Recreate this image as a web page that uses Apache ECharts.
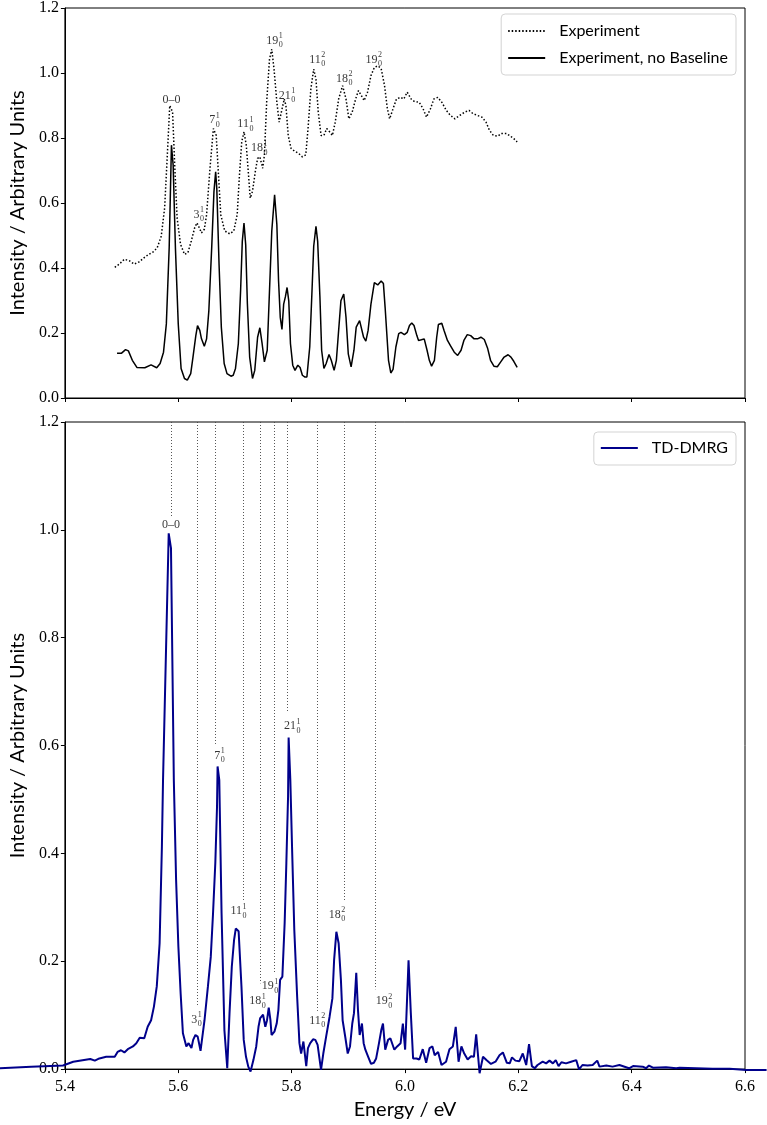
<!DOCTYPE html>
<html>
<head>
<meta charset="utf-8">
<title>TD-DMRG vs experiment</title>
<script src="https://cdn.jsdelivr.net/npm/echarts@6/dist/echarts.min.js"></script>
<style>
  html, body { margin: 0; padding: 0; background: #fff; }
  #chart { width: 767px; height: 1125px; }
</style>
</head>
<body>
<div id="chart"></div>
<script>
// ---- axis ticks ----
var xTicks = [5.4, 5.6, 5.8, 6.0, 6.2, 6.4, 6.6];
var yTicks = [0.0, 0.2, 0.4, 0.6, 0.8, 1.0, 1.2];

// ---- experiment (dotted) ----
var expE = [5.488,5.496,5.505,5.514,5.522,5.531,5.540,5.548,5.557,5.563,
  5.570,5.576,5.581,5.585,5.590,5.594,5.598,5.604,5.611,5.617,
  5.623,5.629,5.633,5.637,5.641,5.646,5.650,5.656,5.662,5.667,
  5.671,5.675,5.682,5.691,5.698,5.704,5.708,5.712,5.716,5.720,
  5.724,5.727,5.731,5.736,5.740,5.744,5.749,5.752,5.756,5.761,
  5.765,5.769,5.774,5.778,5.782,5.787,5.790,5.794,5.799,5.805,
  5.812,5.819,5.825,5.829,5.834,5.839,5.843,5.847,5.852,5.857,
  5.862,5.867,5.872,5.877,5.883,5.890,5.896,5.901,5.907,5.913,
  5.918,5.923,5.928,5.934,5.940,5.946,5.952,5.958,5.964,5.969,
  5.973,5.979,5.985,5.992,5.998,6.004,6.011,6.017,6.025,6.032,
  6.038,6.045,6.051,6.058,6.065,6.073,6.080,6.088,6.097,6.106,
  6.113,6.120,6.127,6.136,6.143,6.149,6.156,6.164,6.170,6.179,
  6.186,6.192,6.198];
var expI = [0.402,0.412,0.427,0.422,0.412,0.419,0.432,0.442,0.451,0.463,
  0.498,0.585,0.758,0.900,0.880,0.707,0.554,0.473,0.442,0.447,
  0.483,0.524,0.539,0.524,0.508,0.519,0.564,0.707,0.829,0.808,
  0.686,0.564,0.514,0.505,0.514,0.564,0.686,0.788,0.819,0.778,
  0.686,0.615,0.636,0.697,0.737,0.742,0.707,0.747,0.910,1.042,
  1.073,1.012,0.910,0.849,0.880,0.920,0.900,0.808,0.768,0.760,
  0.753,0.742,0.748,0.829,0.951,1.012,0.981,0.880,0.808,0.808,
  0.829,0.819,0.808,0.849,0.920,0.961,0.920,0.859,0.880,0.920,
  0.946,0.931,0.915,0.941,0.992,1.017,1.022,1.014,0.961,0.890,
  0.859,0.890,0.920,0.925,0.920,0.941,0.920,0.912,0.910,0.890,
  0.864,0.890,0.920,0.925,0.910,0.885,0.870,0.859,0.870,0.880,
  0.885,0.875,0.870,0.864,0.849,0.824,0.808,0.806,0.814,0.814,
  0.806,0.798,0.788];

// ---- experiment, no baseline (solid) ----
var nbE = [5.492,5.500,5.507,5.512,5.519,5.527,5.541,5.552,5.562,5.568,
  5.574,5.579,5.584,5.588,5.591,5.595,5.600,5.605,5.611,5.616,
  5.622,5.626,5.631,5.634,5.638,5.641,5.646,5.650,5.654,5.659,
  5.663,5.666,5.668,5.672,5.676,5.681,5.686,5.693,5.697,5.701,
  5.706,5.710,5.713,5.716,5.719,5.722,5.726,5.731,5.735,5.740,
  5.744,5.748,5.752,5.757,5.761,5.765,5.770,5.774,5.777,5.780,
  5.783,5.786,5.789,5.792,5.795,5.798,5.802,5.806,5.811,5.815,
  5.819,5.823,5.827,5.832,5.836,5.839,5.843,5.846,5.850,5.853,
  5.857,5.861,5.866,5.870,5.875,5.879,5.883,5.887,5.892,5.896,
  5.900,5.905,5.910,5.914,5.920,5.927,5.931,5.935,5.940,5.946,5.952,
  5.958,5.962,5.965,5.971,5.975,5.979,5.984,5.989,5.993,5.999,
  6.004,6.008,6.012,6.016,6.021,6.024,6.029,6.034,6.039,6.043,
  6.047,6.052,6.056,6.059,6.065,6.069,6.075,6.081,6.087,6.093,
  6.099,6.104,6.110,6.116,6.122,6.128,6.134,6.140,6.146,6.151,
  6.157,6.163,6.169,6.175,6.182,6.187,6.192,6.198];
var nbI = [0.138,0.138,0.149,0.145,0.116,0.094,0.093,0.102,0.093,0.106,
  0.141,0.228,0.462,0.778,0.717,0.462,0.228,0.091,0.060,0.055,
  0.075,0.126,0.192,0.223,0.208,0.182,0.159,0.182,0.269,0.462,
  0.635,0.696,0.645,0.411,0.218,0.106,0.075,0.067,0.070,0.091,
  0.167,0.330,0.482,0.538,0.472,0.289,0.126,0.060,0.085,0.187,
  0.216,0.167,0.111,0.147,0.330,0.513,0.625,0.533,0.360,0.248,
  0.211,0.289,0.311,0.340,0.299,0.167,0.101,0.085,0.101,0.094,
  0.070,0.065,0.065,0.157,0.330,0.467,0.528,0.482,0.309,0.147,
  0.091,0.106,0.134,0.116,0.085,0.116,0.208,0.299,0.320,0.248,
  0.136,0.096,0.147,0.218,0.238,0.187,0.175,0.208,0.289,0.355,0.348,
  0.360,0.352,0.279,0.116,0.077,0.088,0.157,0.198,0.202,0.195,
  0.202,0.223,0.231,0.223,0.192,0.177,0.179,0.182,0.147,0.116,
  0.098,0.116,0.187,0.226,0.230,0.208,0.177,0.159,0.141,0.131,
  0.147,0.177,0.195,0.192,0.182,0.182,0.187,0.180,0.152,0.116,
  0.098,0.096,0.111,0.126,0.133,0.126,0.113,0.094];

// ---- TD-DMRG ----
var dmrgE = [5.288,5.344,5.400,5.418,5.448,5.456,5.464,5.476,5.491,5.496,
  5.502,5.508,5.514,5.523,5.529,5.535,5.543,5.549,5.555,5.560,
  5.565,5.570,5.574,5.576,5.586,5.590,5.595,5.599,5.603,5.607,
  5.611,5.617,5.621,5.626,5.629,5.633,5.637,5.642,5.649,5.655,
  5.660,5.664,5.668,5.671,5.672,5.675,5.679,5.684,5.689,5.693,
  5.697,5.701,5.704,5.709,5.714,5.718,5.722,5.726,5.730,5.735,
  5.740,5.744,5.747,5.752,5.756,5.759,5.762,5.765,5.767,5.772,
  5.776,5.779,5.782,5.786,5.790,5.793,5.796,5.797,5.800,5.803,
  5.807,5.812,5.816,5.819,5.823,5.828,5.831,5.835,5.840,5.844,
  5.848,5.854,5.858,5.863,5.869,5.874,5.877,5.881,5.885,5.889,
  5.892,5.897,5.901,5.905,5.909,5.912,5.916,5.919,5.922,5.926,
  5.929,5.932,5.937,5.942,5.947,5.951,5.956,5.960,5.963,5.967,
  5.972,5.976,5.979,5.983,5.988,5.994,5.998,6.002,6.008,6.012,
  6.016,6.022,6.027,6.033,6.039,6.045,6.050,6.054,6.060,6.066,
  6.074,6.080,6.086,6.091,6.096,6.101,6.106,6.112,6.118,6.123,
  6.127,6.133,6.139,6.145,6.153,6.161,6.168,6.174,6.181,6.186,
  6.190,6.196,6.203,6.209,6.215,6.220,6.225,6.230,6.235,6.244,
  6.250,6.256,6.262,6.267,6.272,6.277,6.285,6.294,6.303,6.308,
  6.314,6.323,6.332,6.335,6.340,6.344,6.356,6.367,6.379,6.396,
  6.403,6.420,6.426,6.431,6.438,6.461,6.479,6.485,6.514,6.543,
  6.573,6.602,6.638];
var dmrgI = [0.016,0.019,0.021,0.028,0.033,0.030,0.034,0.037,0.037,0.046,
  0.049,0.045,0.051,0.056,0.062,0.072,0.071,0.092,0.104,0.129,
  0.166,0.245,0.422,0.544,0.996,0.969,0.544,0.361,0.239,0.153,
  0.080,0.056,0.062,0.053,0.068,0.077,0.074,0.048,0.104,0.166,
  0.220,0.300,0.392,0.495,0.569,0.544,0.300,0.086,0.016,0.117,
  0.202,0.251,0.272,0.267,0.166,0.068,0.037,0.019,0.010,0.031,
  0.056,0.092,0.108,0.114,0.092,0.104,0.127,0.104,0.077,0.083,
  0.098,0.123,0.178,0.184,0.282,0.392,0.514,0.622,0.544,0.422,
  0.269,0.147,0.062,0.043,0.065,0.020,0.053,0.062,0.069,0.068,
  0.059,0.013,0.043,0.074,0.110,0.144,0.214,0.266,0.245,0.178,
  0.104,0.071,0.043,0.056,0.098,0.117,0.191,0.123,0.077,0.098,
  0.062,0.050,0.037,0.024,0.026,0.034,0.062,0.086,0.098,0.050,
  0.068,0.071,0.068,0.050,0.056,0.062,0.098,0.050,0.214,0.117,
  0.034,0.034,0.032,0.051,0.026,0.053,0.056,0.040,0.046,0.022,
  0.028,0.051,0.056,0.092,0.028,0.056,0.043,0.032,0.038,0.037,
  0.078,0.007,0.037,0.031,0.024,0.028,0.040,0.045,0.026,0.025,
  0.036,0.030,0.029,0.043,0.022,0.060,0.020,0.016,0.022,0.028,
  0.025,0.030,0.025,0.031,0.020,0.027,0.025,0.028,0.031,0.014,
  0.022,0.021,0.022,0.020,0.030,0.019,0.021,0.019,0.022,0.016,
  0.020,0.019,0.016,0.021,0.017,0.018,0.016,0.017,0.016,0.015,
  0.015,0.013,0.013];

// ---- peak assignments ----
var lblBase = ['0\u20130', '3', '7', '11', '18', '19', '21', '11', '18', '19'];
var lblSup  = ['', '1', '1', '1', '1', '1', '1', '2', '2', '2'];
var lblSub  = ['', '0', '0', '0', '0', '0', '0', '0', '0', '0'];
var topLblE = [5.588, 5.636, 5.664, 5.718, 5.743, 5.770, 5.792, 5.845, 5.893, 5.945];
var topLblI = [0.916, 0.565, 0.855, 0.843, 0.769, 1.099, 0.931, 1.041, 0.983, 1.041];
var botLblE = [5.587, 5.632, 5.673, 5.706, 5.740, 5.762, 5.801, 5.845, 5.880, 5.963];
var botLblI = [1.010, 0.092, 0.581, 0.293, 0.126, 0.154, 0.636, 0.090, 0.286, 0.126];
// dotted guides at the experimental peaks, from the top down to this intensity
var guideE = [5.588, 5.634, 5.666, 5.715, 5.745, 5.770, 5.792, 5.845, 5.893, 5.947];
var guideEnd = [1.022, 0.117, 0.603, 0.311, 0.159, 0.178, 0.663, 0.108, 0.311, 0.148];

function zip(a, b) { return a.map(function (v, i) { return [v, b[i]]; }); }

var serif = 'Liberation Serif';
var sans = 'Lato';

// plot box geometry (px) - the TD-DMRG curve runs past the frame, so it sits
// on a hidden full-width axis scaled to match the visible one
var plotL = 63, plotR = 22, W = 767;
var pxPerUnit = (W - plotL - plotR) / (xTicks[xTicks.length - 1] - xTicks[0]);

// base text + stacked super/subscript, all anchored on one data point
function labelItems(xs, ys) {
  var items = [];
  xs.forEach(function (x, i) {
    var wb = lblBase[i].length * 6;
    if (!lblSup[i]) {
      items.push({ value: [x, ys[i]], label: { formatter: lblBase[i], align: 'center', offset: [0, 0], fontSize: 12 } });
      return;
    }
    var left = -(wb + 4.5) / 2;
    items.push({ value: [x, ys[i]], label: { formatter: lblBase[i], align: 'right', offset: [left + wb, 0], fontSize: 12 } });
    items.push({ value: [x, ys[i]], label: { formatter: lblSup[i], align: 'left', offset: [left + wb + 0.5, -4.5], fontSize: 8 } });
    items.push({ value: [x, ys[i]], label: { formatter: lblSub[i], align: 'left', offset: [left + wb + 0.5, 4.5], fontSize: 8 } });
  });
  return items;
}

function labelSeries(xi, yi, items, extra) {
  var s = {
    type: 'scatter', xAxisIndex: xi, yAxisIndex: yi, silent: true, z: 5,
    symbolSize: 1, itemStyle: { color: 'rgba(0,0,0,0)' },
    label: { show: true, position: 'inside', verticalAlign: 'middle', color: '#000', fontFamily: serif },
    data: items
  };
  if (extra) s.markLine = extra;
  return s;
}

function xAxisCfg(grid, withLabels) {
  var a = {
    type: 'value', gridIndex: grid, min: xTicks[0], max: xTicks[xTicks.length - 1],
    interval: 0.2,
    axisLine: { onZero: false, lineStyle: { color: '#000', width: 1 } },
    axisTick: { show: true, length: 4, lineStyle: { color: '#000' } },
    splitLine: { show: false },
    axisLabel: { show: withLabels, margin: 10, color: '#000', fontFamily: serif, fontSize: 16,
      formatter: function (v) { return v.toFixed(1); } }
  };
  if (withLabels) {
    a.name = 'Energy / eV';
    a.nameLocation = 'middle';
    a.nameGap = 27;
    a.nameTextStyle = { fontFamily: sans, fontSize: 20, color: '#000' };
  }
  return a;
}

function yAxisCfg(grid) {
  return {
    type: 'value', gridIndex: grid, min: yTicks[0], max: yTicks[yTicks.length - 1],
    interval: 0.2,
    name: 'Intensity / Arbitrary Units', nameLocation: 'middle', nameGap: 32,
    nameTextStyle: { fontFamily: sans, fontSize: 20, color: '#000' },
    axisLine: { show: true, lineStyle: { color: '#000', width: 1 } },
    axisTick: { show: true, length: 4, lineStyle: { color: '#000' } },
    splitLine: { show: false },
    axisLabel: { margin: 6, color: '#000', fontFamily: serif, fontSize: 16,
      formatter: function (v) { return v.toFixed(1); } }
  };
}

var legendBox = {
  orient: 'vertical', right: 31, itemWidth: 37, itemHeight: 14, itemGap: 11,
  backgroundColor: '#fff', borderColor: '#d3d3d3', borderWidth: 1, borderRadius: 4,
  itemStyle: { opacity: 0 },
  textStyle: { fontFamily: sans, fontSize: 16, color: '#000', padding: [0, 0, 0, 9] }
};

var chart = echarts.init(document.getElementById('chart'), null, { renderer: 'canvas' });

var guideLines = {
  silent: true, symbol: ['none', 'none'],
  lineStyle: { type: [1, 2], color: '#444', width: 0.9 },
  label: { show: false },
  data: guideE.map(function (x, i) { return [{ coord: [x, yTicks[yTicks.length - 1]] }, { coord: [x, guideEnd[i]] }]; })
};

chart.setOption({
  animation: false,
  grid: [
    { left: plotL, right: plotR, top: 5, height: 393, show: true, borderColor: '#000', borderWidth: 1 },
    { left: plotL, right: plotR, top: 422, height: 655, show: true, borderColor: '#000', borderWidth: 1 },
    { left: 0, right: 0, top: 422, height: 655, show: false }
  ],
  xAxis: [
    xAxisCfg(0, false),
    xAxisCfg(1, true),
    { type: 'value', gridIndex: 2, show: false,
      min: xTicks[0] - plotL / pxPerUnit, max: xTicks[xTicks.length - 1] + plotR / pxPerUnit }
  ],
  yAxis: [
    yAxisCfg(0),
    yAxisCfg(1),
    { type: 'value', gridIndex: 2, show: false, min: yTicks[0], max: yTicks[yTicks.length - 1] }
  ],
  legend: [
    Object.assign({}, legendBox, { top: 14, padding: [9, 8, 9, 6], data: ['Experiment', 'Experiment, no Baseline'] }),
    Object.assign({}, legendBox, { top: 432, padding: [8, 8, 9, 6], data: ['TD-DMRG'] })
  ],
  series: [
    {
      name: 'Experiment', type: 'line', xAxisIndex: 0, yAxisIndex: 0,
      symbol: 'none', smooth: false, z: 3,
      lineStyle: { color: '#000', width: 1.5, type: [1.5, 2] },
      itemStyle: { color: '#000' },
      data: zip(expE, expI)
    },
    {
      name: 'Experiment, no Baseline', type: 'line', xAxisIndex: 0, yAxisIndex: 0,
      symbol: 'none', smooth: false, z: 3,
      lineStyle: { color: '#000', width: 1.5 },
      itemStyle: { color: '#000' },
      data: zip(nbE, nbI)
    },
    {
      name: 'TD-DMRG', type: 'line', xAxisIndex: 2, yAxisIndex: 2,
      symbol: 'none', smooth: false, clip: false, z: 3,
      lineStyle: { color: '#00008b', width: 2 },
      itemStyle: { color: '#00008b' },
      data: zip(dmrgE, dmrgI)
    },
    labelSeries(0, 0, labelItems(topLblE, topLblI)),
    labelSeries(1, 1, labelItems(botLblE, botLblI), guideLines)
  ]
});
</script>
</body>
</html>
